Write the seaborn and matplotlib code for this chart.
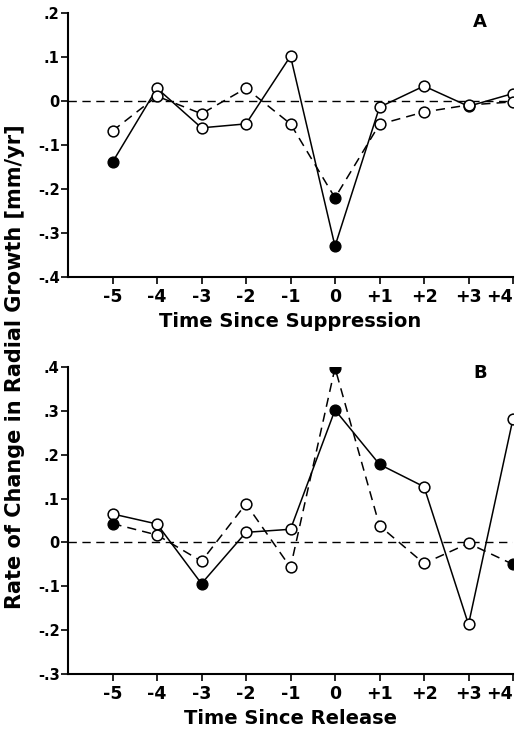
import matplotlib
matplotlib.use("Agg")
import matplotlib.pyplot as plt
import seaborn as sns
import pandas as pd

# =============================================================================
# data
# =============================================================================
years = [-5, -4, -3, -2, -1, 0, 1, 2, 3, 4]
tick_labels = ['-5', '-4', '-3', '-2', '-1', '0', '+1', '+2', '+3', '+4']

# panel A: time since suppression
a_solid = [-0.139, 0.029, -0.061, -0.052, 0.102, -0.330, -0.014, 0.034, -0.012, 0.017]
a_solid_filled = [1, 0, 0, 0, 0, 1, 0, 0, 0, 0]
a_dash = [-0.068, 0.011, -0.029, 0.029, -0.052, -0.220, -0.053, -0.025, -0.009, -0.002]
a_dash_filled = [0, 0, 0, 0, 0, 1, 0, 0, 0, 0]

# panel B: time since release
b_solid = [0.065, 0.042, -0.094, 0.023, 0.030, 0.302, 0.178, 0.127, -0.187, 0.282]
b_solid_filled = [0, 0, 1, 0, 0, 1, 1, 0, 0, 0]
b_dash = [0.043, 0.017, -0.043, 0.088, -0.057, 0.398, 0.038, -0.048, -0.002, -0.050]
b_dash_filled = [1, 0, 0, 0, 0, 1, 0, 0, 0, 1]

a_yticks = [0.2, 0.1, 0.0, -0.1, -0.2, -0.3, -0.4]
a_ylabels = ['.2', '.1', '0', '-.1', '-.2', '-.3', '-.4']
b_yticks = [0.4, 0.3, 0.2, 0.1, 0.0, -0.1, -0.2, -0.3]
b_ylabels = ['.4', '.3', '.2', '.1', '0', '-.1', '-.2', '-.3']

# =============================================================================
# plotting
# =============================================================================
sns.set_theme(style="ticks")
plt.rcParams['font.family'] = ['DejaVu Sans']
plt.rcParams['font.weight'] = 'bold'
plt.rcParams['text.color'] = 'black'
plt.rcParams['axes.labelcolor'] = 'black'
plt.rcParams['xtick.color'] = 'black'
plt.rcParams['ytick.color'] = 'black'

W, H = 521, 732
fig = plt.figure(figsize=(W / 100, H / 100), dpi=100)
ax_a = fig.add_axes([68 / W, 1 - 277 / H, 445 / W, 264 / H])
ax_b = fig.add_axes([68 / W, 1 - 674 / H, 445 / W, 307 / H])


def draw_series(ax, vals, filled, ls):
    df = pd.DataFrame({'t': years, 'v': vals, 'filled': filled})
    sns.lineplot(data=df, x='t', y='v', ax=ax, color='black', lw=1.1,
                 linestyle=ls, legend=False)
    if ls == '--':
        ax.lines[-1].set_dashes((6, 4))
    op = df[df['filled'] == 0]
    fl = df[df['filled'] == 1]
    sns.scatterplot(data=op, x='t', y='v', ax=ax, s=60, facecolor='white',
                    edgecolor='black', linewidth=1.1, zorder=3, legend=False)
    sns.scatterplot(data=fl, x='t', y='v', ax=ax, s=60, color='black',
                    edgecolor='black', linewidth=1.0, zorder=4, legend=False)


def style_axis(ax, yticks, ylabels, ylim, xlabel, letter, ly):
    ax.axhline(0, color='black', lw=1.0, dashes=(6, 4), zorder=1)
    ax.set_xlim(-6, 4)
    ax.set_ylim(*ylim)
    ax.set_xticks(years)
    ax.set_xticklabels(tick_labels, fontsize=12.5, fontweight='bold')
    ax.set_yticks(yticks)
    ax.set_yticklabels(ylabels, fontsize=10.5, fontweight='bold')
    ax.set_xlabel(xlabel, fontsize=14, fontweight='bold', labelpad=4)
    ax.set_ylabel('')
    sns.despine(ax=ax)
    for sp in ['left', 'bottom']:
        ax.spines[sp].set_linewidth(1.5)
        ax.spines[sp].set_color('black')
    ax.tick_params(axis='both', direction='out', width=1.2, length=5, pad=1)
    ax.tick_params(axis='x', pad=3)
    ax.text(0.926, ly, letter, transform=ax.transAxes, fontsize=13,
            fontweight='bold', ha='center', va='center')


draw_series(ax_a, a_solid, a_solid_filled, '-')
draw_series(ax_a, a_dash, a_dash_filled, '--')
style_axis(ax_a, a_yticks, a_ylabels, (-0.4, 0.2), 'Time Since Suppression', 'A', 0.966)

draw_series(ax_b, b_solid, b_solid_filled, '-')
draw_series(ax_b, b_dash, b_dash_filled, '--')
style_axis(ax_b, b_yticks, b_ylabels, (-0.3, 0.4), 'Time Since Release', 'B', 0.98)

# last tick label sits at the right edge of the figure
for ax in (ax_a, ax_b):
    ax.get_xticklabels()[-1].set_horizontalalignment('right')
    ax.get_xticklabels()[-1].set_x(4.18)

fig.text(15 / W, 1 - 367 / H, 'Rate of Change in Radial Growth [mm/yr]',
         rotation=90, ha='center', va='center', fontsize=15, fontweight='bold')

fig.savefig('out.png', dpi=100)
